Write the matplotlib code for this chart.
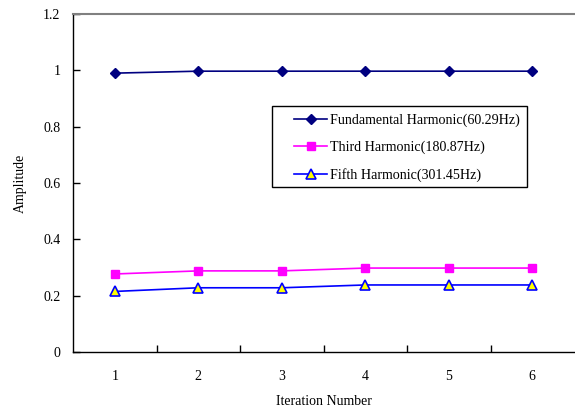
import matplotlib
matplotlib.use("Agg")
import matplotlib.pyplot as plt
from matplotlib.patches import Rectangle

iterations = [1, 2, 3, 4, 5, 6]
fundamental = [0.99, 0.997, 0.997, 0.997, 0.997, 0.997]
third = [0.277, 0.288, 0.288, 0.298, 0.298, 0.298]
fifth = [0.215, 0.228, 0.228, 0.238, 0.238, 0.238]
labels = ["Fundamental Harmonic(60.29Hz)", "Third Harmonic(180.87Hz)", "Fifth Harmonic(301.45Hz)"]
yticks = [0, 0.2, 0.4, 0.6, 0.8, 1, 1.2]
ytick_labels = ["0", "0.2", "0.4", "0.6", "0.8", "1", "1.2"]

plt.rcParams['font.family'] = ['Liberation Serif', 'DejaVu Serif']

fig = plt.figure(figsize=(5.75, 4.09), dpi=100)
L, R, T, B = 73, 574, 14, 352
ax = fig.add_axes([L/575, 1-B/409, (R-L)/575, (B-T)/409])

def axx(px):
    return (px - L) / (R - L)

def axy(py):
    return (B - py) / (B - T)

ax.plot(iterations, fundamental, color='#000080', lw=1.2, marker='D', ms=5,
        mfc='#000080', mec='#000080', label=labels[0])
ax.plot(iterations, third, color='#FF00FF', lw=1.2, marker='s', ms=6,
        mfc='#FF00FF', mec='#FF00FF', label=labels[1])
ax.plot(iterations, fifth, color='#0000FF', lw=1.2, marker='^', ms=6.5,
        mfc='#FFFF00', mec='#0000FF', mew=1.2, label=labels[2])

ax.set_xlim(0.5, 6.5)
ax.set_ylim(0, 1.2)
ax.set_yticks(yticks)
ax.set_yticklabels(ytick_labels)
ax.set_xticks(iterations)
ax.set_xticklabels([str(i) for i in iterations])
ax.tick_params(axis='x', which='major', length=0, pad=13, labelsize=10)
ax.set_xticks([1.5, 2.5, 3.5, 4.5, 5.5], minor=True)
ax.tick_params(axis='x', which='minor', direction='in', length=5, width=1)
ax.tick_params(axis='y', direction='in', length=5, width=1, pad=9, labelsize=10)

ax.spines['right'].set_visible(False)
ax.spines['top'].set_color('#808080')
ax.spines['top'].set_linewidth(1.5)
ax.spines['left'].set_linewidth(1)
ax.spines['bottom'].set_linewidth(1)

ax.set_xlabel("Iteration Number", fontsize=10, labelpad=8.5)
ax.set_ylabel("Amplitude", fontsize=10, labelpad=12)

# legend frame
ax.add_patch(Rectangle((axx(272), axy(187)), axx(527) - axx(272), axy(106) - axy(187),
                       transform=ax.transAxes, facecolor='white', edgecolor='black',
                       lw=1.0, zorder=5))
leg = ax.legend(loc='upper left', bbox_to_anchor=(axx(294), axy(114)),
                borderaxespad=0.0, borderpad=0.0, frameon=False,
                fontsize=10.1, labelspacing=0.96, handlelength=2.38, handletextpad=0.2)
leg.set_zorder(6)

fig.savefig("out.png", dpi=100)
